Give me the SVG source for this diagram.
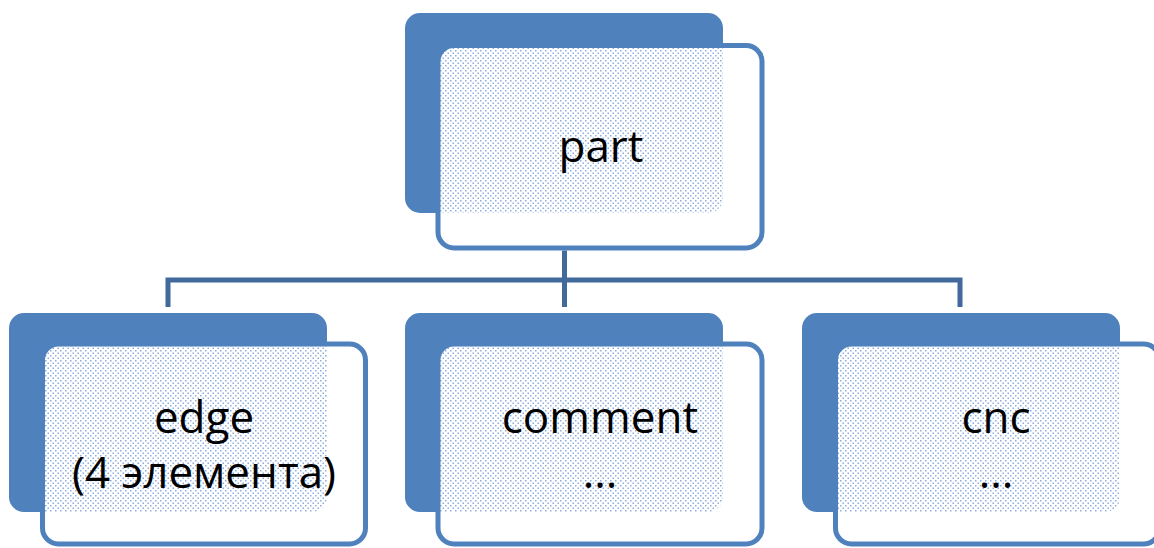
<svg xmlns="http://www.w3.org/2000/svg" width="1154" height="548" viewBox="0 0 1154 548">
<style>
.back{fill:#4f81bd}
.front{fill:#ffffff}
.frame{fill:none;stroke:#4f81bd;stroke-width:5}
.dots{fill:url(#dotpat)}
.conn{fill:none;stroke:#41699b;stroke-width:5}
.ghost{fill:none;stroke:#7fa5dc;stroke-width:2;stroke-dasharray:1.5 3}
.lbl{font-family:"Open Sans","Noto Sans","Liberation Sans",sans-serif;font-size:44px;fill:#000;text-anchor:middle}
</style>
<defs>
<pattern id="dotpat" width="5" height="5" patternUnits="userSpaceOnUse">
<rect x="0" y="0" width="1.5" height="1.5" fill="#6e98d4" opacity="0.8"/>
<rect x="2.5" y="2.5" width="1.5" height="1.5" fill="#6e98d4" opacity="0.8"/>
</pattern>
<clipPath id="cTop"><rect x="438" y="45.5" width="324" height="202.5" rx="16"/></clipPath>
<clipPath id="cL"><rect x="42.5" y="344" width="323" height="200" rx="16"/></clipPath>
<clipPath id="cM"><rect x="438" y="344" width="324" height="200" rx="16"/></clipPath>
<clipPath id="cR"><rect x="835.5" y="344" width="324" height="200" rx="16"/></clipPath>
</defs>

<g id="connectors">
<line class="ghost" x1="564.5" y1="216" x2="564.5" y2="246"/>
<path class="conn" d="M564.5 250.5 V307"/>
<path class="conn" d="M168 307 V280 H960 V307"/>
</g>

<g id="node-part">
<rect class="back" x="405" y="13" width="318" height="200" rx="15"/>
<rect class="front" x="438" y="45.5" width="324" height="202.5" rx="16"/>
<rect class="dots" x="405" y="13" width="318" height="200" rx="15" clip-path="url(#cTop)"/>
<rect class="frame" x="438" y="45.5" width="324" height="202.5" rx="16"/>
<text class="lbl" x="601" y="162">part</text>
</g>

<g id="node-edge">
<rect class="back" x="9" y="313" width="318" height="199" rx="15"/>
<rect class="front" x="42.5" y="344" width="323" height="200" rx="16"/>
<rect class="dots" x="9" y="313" width="318" height="199" rx="15" clip-path="url(#cL)"/>
<rect class="frame" x="42.5" y="344" width="323" height="200" rx="16"/>
<text class="lbl" x="204" y="433">edge</text>
<text class="lbl" x="204" y="488">(4 элемента)</text>
</g>

<g id="node-comment">
<rect class="back" x="405" y="313" width="318" height="199" rx="15"/>
<rect class="front" x="438" y="344" width="324" height="200" rx="16"/>
<rect class="dots" x="405" y="313" width="318" height="199" rx="15" clip-path="url(#cM)"/>
<rect class="frame" x="438" y="344" width="324" height="200" rx="16"/>
<text class="lbl" x="600" y="433">comment</text>
<text class="lbl" x="600" y="488">...</text>
</g>

<g id="node-cnc">
<rect class="back" x="802" y="313" width="318" height="199" rx="15"/>
<rect class="front" x="835.5" y="344" width="324" height="200" rx="16"/>
<rect class="dots" x="802" y="313" width="318" height="199" rx="15" clip-path="url(#cR)"/>
<rect class="frame" x="835.5" y="344" width="324" height="200" rx="16"/>
<text class="lbl" x="996" y="433">cnc</text>
<text class="lbl" x="996" y="488">...</text>
</g>
</svg>
